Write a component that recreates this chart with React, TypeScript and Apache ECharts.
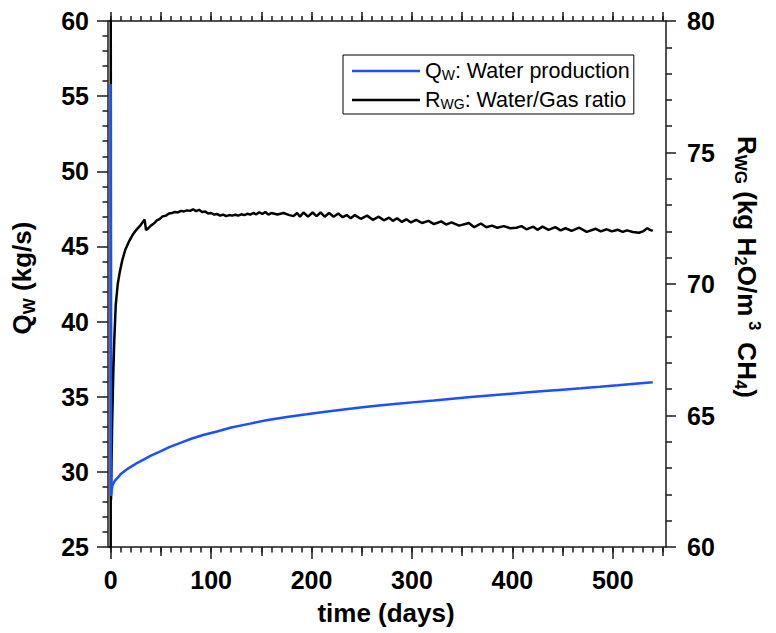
import React, { useEffect, useRef } from 'react';
import * as echarts from 'echarts';

// ---- data ----
const qwDays = [
  0, 0.3, 1.5, 4, 7, 10, 14.3, 18, 21.6, 27,
  32.7, 40, 50, 58.3, 70, 80.2, 92, 105.8, 120, 138.8,
  155, 175.4, 195, 212, 230, 248.6, 267, 285.3, 303, 321.9,
  340, 358.5, 377, 395.2, 413, 431.8, 450, 468.3, 487, 505,
  522, 539.8,
];
const qwValues = [
  55.8, 28.4, 29.06, 29.4, 29.62, 29.85, 30.07, 30.25, 30.4, 30.62,
  30.81, 31.08, 31.38, 31.64, 31.95, 32.2, 32.45, 32.69, 32.95, 33.21,
  33.44, 33.65, 33.83, 33.99, 34.14, 34.28, 34.41, 34.53, 34.64, 34.75,
  34.87, 34.98, 35.08, 35.18, 35.28, 35.38, 35.47, 35.56, 35.66, 35.76,
  35.86, 35.96,
];

const rwgDays = [
  0, 0.05, 0.3, 0.8, 1.5, 2.5, 3.5, 5, 7, 9,
  11.5, 14.5, 18, 22, 26, 30, 33.8, 35.2, 37.5, 40,
  43, 46, 49, 52, 55, 58, 61, 64, 67, 70,
  73, 76, 79, 82, 85, 88, 91, 94, 97, 100,
  103, 106, 109, 112, 115, 118, 121, 124, 127, 130,
  133, 136, 139, 142, 145, 148, 151, 154, 157, 160,
  166, 172, 178, 182, 185.6, 188.5, 192, 196.5, 201, 205,
  209, 213, 217.5, 222, 226.7, 231, 235, 239, 243.2, 249,
  255.3, 261, 267, 272, 277.3, 281, 285.2, 290, 294.4, 299,
  304.3, 310, 316.4, 322, 329.2, 334, 339.4, 347, 356.7, 362,
  368.7, 374, 379.7, 385, 391.5, 398, 404, 409, 414, 420.8,
  425, 430, 436, 442.8, 448, 453, 459, 466.6, 474, 483,
  488, 494.1, 499, 505, 510, 514.2, 520, 526, 530, 534.3,
  537, 539.8,
];
const rwgValues = [
  59, 81, 61.8, 63.2, 64.8, 66.5, 67.8, 69.2, 70.0, 70.45,
  70.9, 71.3, 71.6, 71.88, 72.08, 72.25, 72.45, 72.05, 72.12, 72.22,
  72.3, 72.42, 72.48, 72.58, 72.6, 72.68, 72.7, 72.74, 72.72, 72.78,
  72.76, 72.8, 72.78, 72.84, 72.77, 72.82, 72.74, 72.76, 72.68, 72.7,
  72.64, 72.66, 72.6, 72.64, 72.58, 72.62, 72.6, 72.63, 72.6, 72.65,
  72.62, 72.67, 72.64, 72.7, 72.65, 72.73, 72.66, 72.74, 72.64, 72.7,
  72.64, 72.7, 72.62, 72.58, 72.7, 72.56, 72.72, 72.56, 72.72, 72.58,
  72.72, 72.56, 72.7, 72.56, 72.68, 72.54, 72.62, 72.5, 72.62, 72.48,
  72.6, 72.44, 72.56, 72.42, 72.52, 72.4, 72.5, 72.36, 72.46, 72.34,
  72.44, 72.32, 72.4, 72.28, 72.38, 72.26, 72.34, 72.22, 72.32, 72.16,
  72.3, 72.16, 72.22, 72.14, 72.2, 72.12, 72.14, 72.2, 72.08, 72.18,
  72.06, 72.18, 72.06, 72.16, 72.04, 72.12, 72.02, 72.14, 71.98, 72.1,
  72.0, 72.08, 72.0, 72.06, 71.98, 72.04, 71.98, 71.95, 72.0, 72.12,
  72.06, 72.02,
];

// ---- axis ticks ----
const X_MIN = -2.7;
const X_MAX = 553;
const xLabelTicks = [0, 100, 200, 300, 400, 500];
const xHalfTicks = [50, 150, 250, 350, 450, 550];
const xFiftyTicks = [0, 50, 100, 150, 200, 250, 300, 350, 400, 450, 500, 550];
const xTenTicks = Array.from({ length: 56 }, (_, i) => i * 10);

const FONT = '"Liberation Sans", Arial, Helvetica, sans-serif';
const AXIS_COLOR = '#1a1a1a';
const BLUE = '#1a50ff';

export default function App() {
  const ref = useRef<HTMLDivElement>(null);

  useEffect(() => {
    document.body.style.margin = '0';
    const chart = echarts.init(ref.current as HTMLDivElement, null, { renderer: 'svg' });

    const lineStyle = { color: AXIS_COLOR, width: 1.5 };
    const labelStyle = {
      fontSize: 25,
      fontWeight: 'bold',
      color: '#000',
      fontFamily: FONT,
    };

    const tickAxisX = (position: string, values: number[], length: number, withLine: boolean) => ({
      type: 'value',
      position,
      min: X_MIN,
      max: X_MAX,
      splitLine: { show: false },
      axisLine: { show: withLine, onZero: false, lineStyle },
      axisTick: { show: true, inside: false, customValues: values, length, lineStyle },
      axisLabel: { show: false },
    });

    const nameStyle = (extra: any) => ({
      fill: '#000',
      fontSize: 26,
      fontWeight: 'bold',
      fontFamily: FONT,
      align: 'center',
      verticalAlign: 'middle',
      textAlign: 'center',
      textVerticalAlign: 'middle',
      ...extra,
    });
    const nameRich = {
      a: { fontSize: 26, fontWeight: 'bold', lineHeight: 31, fontFamily: FONT, fill: '#000' },
      s: { fontSize: 17, fontWeight: 'bold', lineHeight: 17, verticalAlign: 'bottom', fontFamily: FONT, fill: '#000' },
      p: { fontSize: 17, fontWeight: 'bold', lineHeight: 17, verticalAlign: 'top', fontFamily: FONT, fill: '#000' },
    };

    const option: any = {
      animation: false,
      backgroundColor: '#fff',
      grid: {
        left: 108,
        right: 110,
        top: 21,
        bottom: 86,
        containLabel: false,
        outerBoundsMode: 'none',
      },
      legend: {
        data: ['QW', 'RWG'],
        orient: 'vertical',
        left: 343,
        top: 55,
        icon: 'rect',
        itemWidth: 68,
        itemHeight: 2.5,
        itemGap: 7,
        padding: [5, 4, 3, 9],
        borderColor: '#000',
        borderWidth: 1,
        backgroundColor: '#fff',
        selectedMode: false,
        formatter: (name: string) =>
          name === 'QW'
            ? '{a|Q}{s|W}{a|: Water production}'
            : '{a|R}{s|WG}{a|: Water/Gas ratio}',
        textStyle: {
          color: '#000',
          fontSize: 21.5,
          fontFamily: FONT,
          rich: {
            a: { fontSize: 21.5, lineHeight: 22, color: '#000', fontFamily: FONT },
            s: { fontSize: 14, lineHeight: 14, verticalAlign: 'bottom', color: '#000', fontFamily: FONT },
          },
        },
      },
      xAxis: [
        {
          type: 'value',
          position: 'bottom',
          min: X_MIN,
          max: X_MAX,
          splitLine: { show: false },
          axisLine: { show: true, onZero: false, lineStyle },
          axisTick: { show: true, inside: false, customValues: xLabelTicks, length: 12, lineStyle },
          axisLabel: { show: true, customValues: xLabelTicks, margin: 20, ...labelStyle },
        },
        tickAxisX('bottom', xHalfTicks, 9, false),
        tickAxisX('bottom', xTenTicks, 5.5, false),
        tickAxisX('top', xFiftyTicks, 9, true),
        tickAxisX('top', xTenTicks, 5, false),
      ],
      yAxis: [
        {
          type: 'value',
          position: 'left',
          min: 25,
          max: 60,
          interval: 5,
          splitLine: { show: false },
          axisLine: { show: true, onZero: false, lineStyle },
          axisTick: { show: true, inside: false, length: 11, lineStyle },
          minorTick: { show: true, splitNumber: 5, length: 5.5, lineStyle },
          minorSplitLine: { show: false },
          axisLabel: { show: true, margin: 19, ...labelStyle },
        },
        {
          type: 'value',
          position: 'right',
          min: 60,
          max: 80,
          interval: 5,
          splitLine: { show: false },
          axisLine: { show: true, onZero: false, lineStyle },
          axisTick: { show: true, inside: false, length: 10, lineStyle },
          minorTick: { show: true, splitNumber: 5, length: 6, lineStyle },
          minorSplitLine: { show: false },
          axisLabel: { show: true, margin: 21, ...labelStyle },
        },
      ],
      series: [
        {
          name: 'RWG',
          type: 'line',
          xAxisIndex: 0,
          yAxisIndex: 1,
          data: rwgDays.map((d, i) => [d, rwgValues[i]]),
          symbol: 'none',
          showSymbol: false,
          clip: true,
          lineStyle: { color: '#000', width: 2.5 },
          itemStyle: { color: '#000' },
          z: 2,
        },
        {
          name: 'QW',
          type: 'line',
          xAxisIndex: 0,
          yAxisIndex: 0,
          data: qwDays.map((d, i) => [d, qwValues[i]]),
          symbol: 'none',
          showSymbol: false,
          clip: true,
          lineStyle: { color: BLUE, width: 2.5 },
          itemStyle: { color: BLUE },
          z: 3,
        },
      ],
      graphic: [
        {
          type: 'text',
          x: 386,
          y: 613,
          style: nameStyle({ text: 'time (days)' }),
        },
        {
          type: 'text',
          x: 22,
          y: 278,
          rotation: Math.PI / 2,
          style: nameStyle({ text: '{a|Q}{s|W}{a| (kg/s)}', rich: nameRich }),
        },
        {
          type: 'text',
          x: 747,
          y: 267,
          rotation: -Math.PI / 2,
          style: nameStyle({
            text: '{a|R}{s|WG}{a| (kg H}{s|2}{a|O/m}{p| 3 }{a| CH}{s|4}{a|)}',
            rich: nameRich,
          }),
        },
      ],
    };

    chart.setOption(option);
    return () => {
      chart.dispose();
    };
  }, []);

  return <div ref={ref} style={{ width: 776, height: 633 }} />;
}
